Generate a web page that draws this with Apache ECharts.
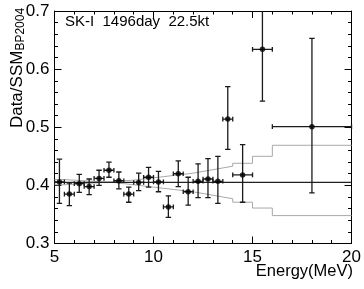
<!DOCTYPE html>
<html>
<head>
<meta charset="utf-8">
<script src="https://cdn.jsdelivr.net/npm/echarts@6/dist/echarts.min.js"></script>
<style>html,body{margin:0;padding:0;background:#fff}#c{width:364px;height:289px}</style>
</head>
<body>
<div id="c"></div>
<script>
// ---- data ----
const binEdges = [5,5.5,6,6.5,7,7.5,8,8.5,9,9.5,10,10.5,11,11.5,12,12.5,13,13.5,14,15,16,20];
const energy = [5.25,5.75,6.25,6.75,7.25,7.75,8.25,8.75,9.25,9.75,10.25,10.75,11.25,11.75,12.25,12.75,13.25,13.75,14.5,15.5,18];
const ratio  = [0.406,0.385,0.403,0.398,0.412,0.426,0.408,0.385,0.405,0.414,0.406,0.363,0.420,0.389,0.407,0.411,0.407,0.514,0.418,0.634,0.501];
const errHigh= [0.445,0.404,0.419,0.411,0.426,0.440,0.423,0.397,0.421,0.431,0.424,0.382,0.442,0.414,0.437,0.446,0.450,0.570,0.470,0.730,0.653];
const errLow = [0.369,0.365,0.388,0.384,0.400,0.414,0.394,0.371,0.391,0.397,0.389,0.345,0.398,0.366,0.379,0.379,0.369,0.462,0.371,0.545,0.387];
const bandUpper = [0.401,0.402,0.403,0.404,0.405,0.406,0.408,0.409,0.411,0.413,0.415,0.417,0.419,0.421,0.424,0.427,0.430,0.433,0.438,0.450,0.469];
const bandLower = [0.410,0.409,0.408,0.407,0.406,0.405,0.403,0.401,0.399,0.397,0.395,0.393,0.391,0.389,0.386,0.383,0.380,0.377,0.371,0.361,0.348];
const meanRatio = 0.405;
const xTicks = [5,10,15,20];
const yTicks = [0.3,0.4,0.5,0.6,0.7];
const label = 'SK-I  1496day  22.5kt';
const yTitle = 'Data/SSM';
const ySub = 'BP2004';
const xTitle = 'Energy(MeV)';

// ---- build ----
const FONT = 'Liberation Sans, Arial, Helvetica, sans-serif';
const errData = energy.map((e,i)=>[e, ratio[i], binEdges[i], binEdges[i+1], errLow[i], errHigh[i]]);
function stepData(vals){
  const d = vals.map((v,i)=>[binEdges[i], v]);
  d.push([binEdges[binEdges.length-1], vals[vals.length-1]]);
  return d;
}
const axCommonX = {
  type:'value', min:xTicks[0], max:xTicks[xTicks.length-1], interval:5,
  axisLine:{show:true,lineStyle:{color:'#000',width:1}},
  axisTick:{show:true,inside:true,length:7,lineStyle:{color:'#000'}},
  minorTick:{show:true,splitNumber:5,length:3.5,lineStyle:{color:'#000'}},
  splitLine:{show:false}
};
const axCommonY = {
  type:'value', min:yTicks[0], max:yTicks[yTicks.length-1], interval:0.1,
  axisLine:{show:true,lineStyle:{color:'#000',width:1}},
  axisTick:{show:true,inside:true,length:7,lineStyle:{color:'#000'}},
  minorTick:{show:true,splitNumber:5,length:3.5,lineStyle:{color:'#000'}},
  splitLine:{show:false}
};
const chart = echarts.init(document.getElementById('c'), null, {renderer:'canvas'});
chart.setOption({
  animation:false,
  backgroundColor:'#fff',
  grid:{left:54.5,right:11,top:11,bottom:45.5,containLabel:false},
  xAxis:[
    Object.assign({}, axCommonX, {position:'bottom',
      axisLabel:{show:true,fontSize:17,color:'#000',fontFamily:FONT,margin:5}}),
    Object.assign({}, axCommonX, {position:'top', axisLabel:{show:false}})
  ],
  yAxis:[
    Object.assign({}, axCommonY, {position:'left',
      axisLabel:{show:true,fontSize:17,color:'#000',fontFamily:FONT,margin:5,
        formatter:v=>(Math.round(v*10)/10).toFixed(1)}}),
    Object.assign({}, axCommonY, {position:'right', axisLabel:{show:false}})
  ],
  graphic:[
    {type:'text', left:65, top:14, style:{text:label, fontSize:15, fontFamily:FONT, fill:'#000'}},
    {type:'text', x:353, y:271, style:{text:xTitle, fontSize:16.5, fontFamily:FONT, fill:'#000', align:'right', verticalAlign:'middle'}},
    {type:'text', x:17, y:68, rotation:Math.PI/2,
      style:{text:'{m|'+yTitle+'}{s|'+ySub+'}', align:'center', verticalAlign:'middle', fill:'#000',
        rich:{m:{fontSize:17,fontFamily:FONT,fill:'#000'},
              s:{fontSize:12,fontFamily:FONT,fill:'#000',padding:[7,0,0,0]}}}}
  ],
  series:[
    {type:'line', step:'end', data:stepData(bandUpper), symbol:'none', silent:true,
      lineStyle:{color:'#a8a8a8',width:1}, z:1},
    {type:'line', step:'end', data:stepData(bandLower), symbol:'none', silent:true,
      lineStyle:{color:'#a8a8a8',width:1}, z:1},
    {type:'line', data:[[xTicks[0],meanRatio],[xTicks[xTicks.length-1],meanRatio]], symbol:'none', silent:true,
      lineStyle:{color:'#222',width:1.2}, z:2},
    {type:'custom', data:errData, clip:true, z:3, silent:true,
      renderItem:function(params, api){
        const x=api.value(0), y=api.value(1), xl=api.value(2), xh=api.value(3), yl=api.value(4), yh=api.value(5);
        const pl=api.coord([xl,y]), ph=api.coord([xh,y]);
        const pt=api.coord([x,yh]), pb=api.coord([x,yl]);
        const st={stroke:'#1a1a1a', lineWidth:1.3};
        const c=2.7, ch=2.3;
        return {type:'group', children:[
          {type:'line', shape:{x1:pt[0],y1:pt[1],x2:pb[0],y2:pb[1]}, style:st},
          {type:'line', shape:{x1:pt[0]-c,y1:pt[1],x2:pt[0]+c,y2:pt[1]}, style:st},
          {type:'line', shape:{x1:pb[0]-c,y1:pb[1],x2:pb[0]+c,y2:pb[1]}, style:st},
          {type:'line', shape:{x1:pl[0],y1:pl[1],x2:ph[0],y2:ph[1]}, style:st},
          {type:'line', shape:{x1:pl[0],y1:pl[1]-ch,x2:pl[0],y2:pl[1]+ch}, style:st},
          {type:'line', shape:{x1:ph[0],y1:ph[1]-ch,x2:ph[0],y2:ph[1]+ch}, style:st}
        ]};
      }},
    {type:'scatter', data:energy.map((e,i)=>[e,ratio[i]]), symbol:'circle', symbolSize:5.5,
      itemStyle:{color:'#000'}, z:4, silent:true}
  ]
});
</script>
</body>
</html>
